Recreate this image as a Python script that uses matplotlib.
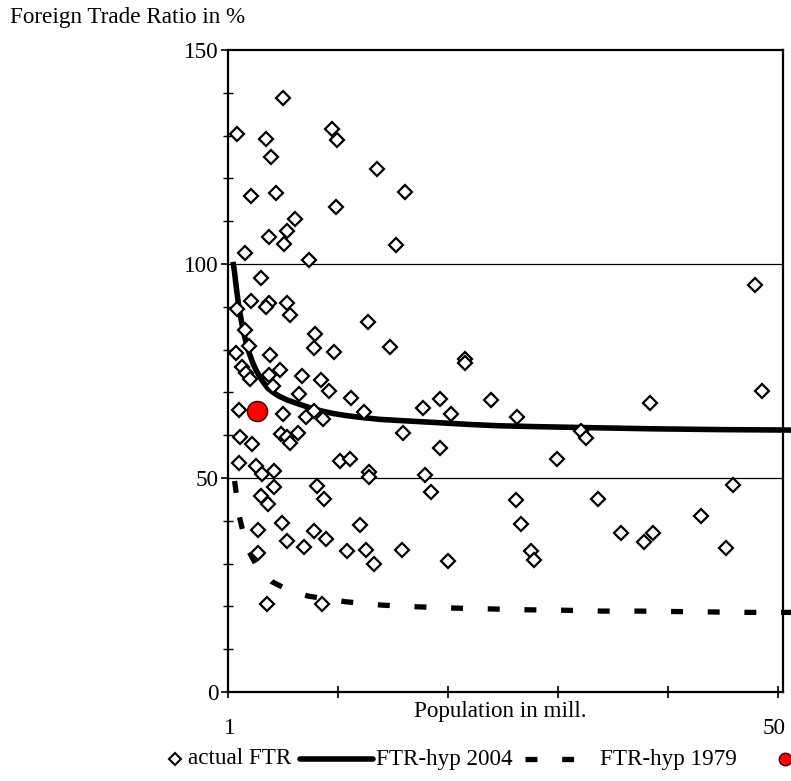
import matplotlib
matplotlib.use("Agg")
import matplotlib.pyplot as plt
from matplotlib.lines import Line2D
from matplotlib.transforms import blended_transform_factory

plt.rcParams['font.family'] = ['Liberation Serif', 'DejaVu Serif']
plt.rcParams['lines.scale_dashes'] = False
FS = 16.7

# ---- data (population in mill., foreign trade ratio in %) ----
pop = [1.85, 6.0, 4.43, 4.88, 3.06, 5.34, 10.48, 10.88, 14.55, 17.09,
       10.79, 7.06, 6.39, 4.75, 6.06, 2.55, 16.3, 8.39, 4.0,
       3.06, 4.73, 4.48, 6.34, 6.64, 1.85, 2.55, 2.91, 1.73, 4.82,
       2.3, 2.61, 3.0, 4.75, 5.73, 5.06, 7.7, 8.91, 8.79, 10.61,
       13.7, 15.75, 22.57, 22.57, 9.43, 10.18, 7.43, 12.18, 1.97,
       6.0, 8.06, 8.82, 9.66, 13.34, 18.7, 20.3, 21.25, 24.9,
       5.85, 6.34, 7.39, 6.64, 2.06, 3.18, 16.9, 20.3,
       2.0, 3.52, 4.06, 5.21, 11.2, 12.12, 13.8, 13.85, 18.94, 19.48,
       5.18, 9.06, 9.7, 4.0, 4.61,
       5.91, 3.7, 6.39, 7.91, 8.82, 9.88, 13.03, 11.82, 13.57, 14.25,
       16.85, 21.0, 3.73, 4.55, 9.55,
       48.9, 49.5, 27.25, 39.4, 33.1, 33.5, 30.9, 46.9, 27.2, 34.6,
       27.6, 28.5, 28.8, 36.7, 38.85, 39.6, 44.0, 46.3]
ftr = [130.4, 138.7, 129.3, 125.0, 116.0, 116.5, 131.5, 129.0, 122.1, 116.9,
       113.4, 110.4, 107.7, 106.3, 104.7, 102.6, 104.4, 100.9, 96.8,
       91.4, 91.0, 90.0, 90.8, 88.2, 89.6, 84.6, 80.8, 79.3, 78.7,
       75.9, 74.5, 73.1, 74.1, 75.2, 71.6, 73.9, 83.6, 80.3, 79.5,
       86.5, 80.6, 77.8, 76.8, 72.9, 70.3, 69.6, 68.8, 65.8,
       65.0, 64.3, 65.7, 63.9, 65.5, 66.3, 68.5, 64.9, 68.2,
       60.3, 59.6, 60.4, 58.1, 59.5, 58.0, 60.4, 56.9,
       53.5, 52.7, 51.0, 51.7, 54.0, 54.4, 51.3, 50.2, 50.8, 46.7,
       47.9, 48.1, 45.2, 45.8, 44.0,
       39.4, 37.8, 35.2, 33.9, 37.7, 35.8, 39.0, 32.9, 33.1, 30.0,
       33.2, 30.6, 32.5, 20.6, 20.6,
       95.0, 70.3, 64.2, 67.5, 60.9, 59.3, 54.5, 48.4, 44.9, 45.0,
       39.2, 33.0, 30.8, 37.1, 35.1, 37.1, 41.1, 33.6]

red_pop = [3.61]
red_ftr = [65.7]

hyp2004_x = [1.45, 1.57, 1.7, 1.82, 1.95, 2.09, 2.28, 2.48, 2.7, 2.94, 3.25,
             3.55, 3.85, 4.15, 4.61, 5.1, 5.66, 6.4, 7.18, 8.0, 8.7, 9.6,
             10.5, 11.7, 12.94, 14.8, 17.5, 20.3, 23.0, 25.7, 29.0, 33.0,
             39.4, 46.0, 52.2]
hyp2004_y = [100.5, 98.6, 95.7, 93.2, 90.7, 88.5, 85.8, 83.4, 81.1, 79.1, 76.9,
             75.2, 73.8, 72.6, 71.0, 70.0, 69.1, 68.2, 67.5, 66.8, 66.2, 65.6,
             65.1, 64.6, 64.2, 63.7, 63.3, 62.9, 62.5, 62.2, 62.0, 61.8,
             61.5, 61.3, 61.2]

hyp1979_x = [1.6, 2.03, 2.5, 2.91, 3.8, 4.97, 6.5, 8.3, 11.64, 14.97, 18.3,
             21.6, 24.97, 28.3, 31.6, 35.0, 38.4, 41.7, 45.0, 48.4, 52.2]
hyp1979_y = [49.3, 41.0, 36.0, 32.8, 28.6, 25.8, 23.8, 22.4, 21.1, 20.3, 19.9,
             19.6, 19.4, 19.2, 19.1, 18.9, 18.9, 18.8, 18.7, 18.6, 18.6]

y_ticks = [0, 50, 100, 150]
x_tick_positions = [1, 11, 21, 31, 41, 51]

W, H = 791, 781
fig = plt.figure(figsize=(W / 100, H / 100), dpi=100)
fx = lambda px: px / W
fy = lambda py: 1 - py / H

ax = fig.add_axes([fx(228), fy(692), (783 - 228) / W, (692 - 50) / H])
ax.set_xlim(1, 51.45)
ax.set_ylim(0, 150)

for yv in [50, 100]:
    ax.axhline(yv, color='black', lw=0.9, zorder=1)

dash = (0, (8.6, 17.8))
ax.plot(hyp1979_x, hyp1979_y, color='black', lw=3.8, ls=dash,
        dash_capstyle='butt', clip_on=False, zorder=3)
ax.plot(hyp2004_x, hyp2004_y, color='black', lw=4.0, solid_capstyle='butt',
        solid_joinstyle='round', clip_on=False, zorder=3)
ax.plot(pop, ftr, ls='none', marker='D', ms=6.8, mfc='white', mec='black',
        mew=1.6, zorder=4)
ax.plot(red_pop, red_ftr, ls='none', marker='o', ms=14.5, mfc='red',
        mec='#3a0000', mew=1.0, zorder=5)

for s in ax.spines.values():
    s.set_linewidth(1.6)
    s.set_color('black')

ax.set_yticks(y_ticks)
ax.set_yticks(range(0, 151, 10), minor=True)
ax.tick_params(axis='y', which='major', direction='out', length=5, width=1.2,
               labelsize=FS, pad=2)
ax.tick_params(axis='y', which='minor', direction='inout', length=7, width=1.0)
ax.set_xticks(x_tick_positions)
ax.set_xticklabels([''] * len(x_tick_positions))
ax.tick_params(axis='x', which='major', direction='inout', length=9, width=1.2)

tr = blended_transform_factory(ax.transData, fig.transFigure)
ax.text(1.2, fy(728), '1', transform=tr, ha='center', va='center', fontsize=FS)
ax.text(50.6, fy(728), '50', transform=tr, ha='center', va='center', fontsize=FS)
fig.text(fx(500), fy(712), 'Population in mill.', ha='center', va='center', fontsize=FS)
fig.text(fx(10), fy(18), 'Foreign Trade Ratio in %', ha='left', va='center', fontsize=FS)

# ---- legend row ----
ly = fy(759)
fig.add_artist(Line2D([fx(175)], [ly], ls='none', marker='D', ms=6.0, mfc='white',
                      mec='black', mew=1.5, transform=fig.transFigure))
fig.text(fx(188), ly, 'actual FTR', ha='left', va='center', fontsize=FS)
fig.add_artist(Line2D([fx(300), fx(373)], [ly, ly], color='black', lw=4.0,
                      solid_capstyle='round', transform=fig.transFigure))
fig.text(fx(376), ly, 'FTR-hyp 2004', ha='left', va='center', fontsize=FS)
fig.add_artist(Line2D([fx(525), fx(577)], [ly, ly], color='black', lw=3.8, ls=dash,
                      dash_capstyle='butt', transform=fig.transFigure))
fig.text(fx(600), ly, 'FTR-hyp 1979', ha='left', va='center', fontsize=FS)
fig.add_artist(Line2D([fx(785)], [ly], ls='none', marker='o', ms=9, mfc='red',
                      mec='#3a0000', mew=1.0, transform=fig.transFigure))

fig.savefig('out.png', dpi=100)
